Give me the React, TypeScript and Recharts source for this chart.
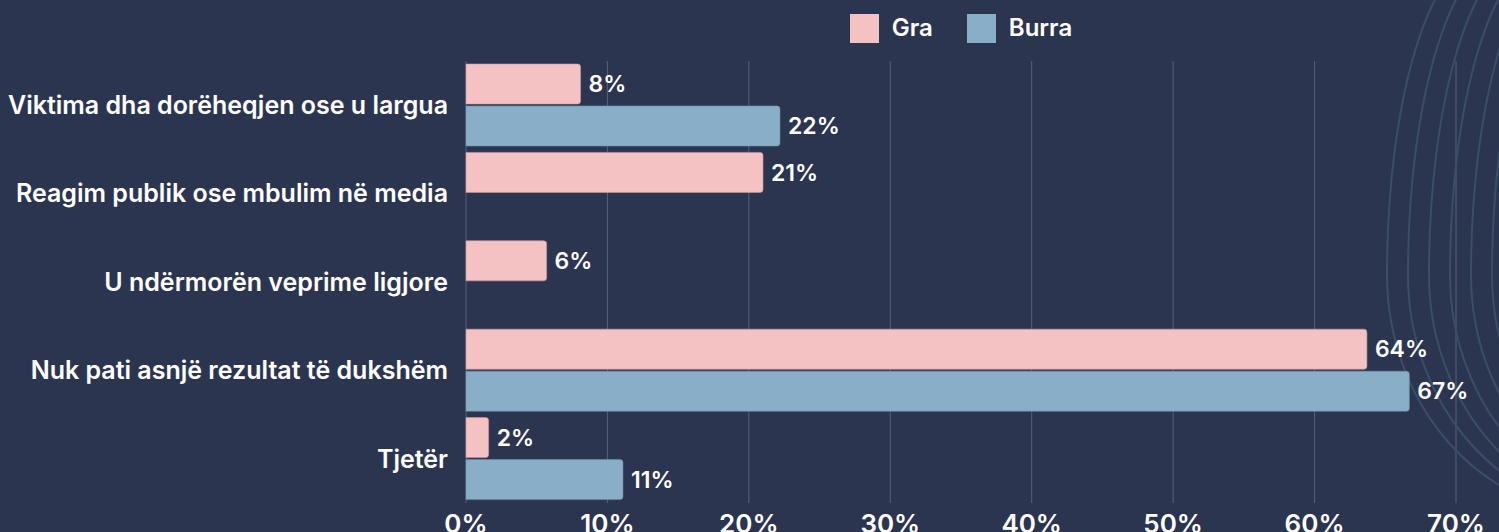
import React from "react";
import { BarChart, Bar, XAxis, YAxis, CartesianGrid, Legend, LabelList, Customized } from "recharts";

const categories = [
  "Viktima dha dorëheqjen ose u largua",
  "Reagim publik ose mbulim në media",
  "U ndërmorën veprime ligjore",
  "Nuk pati asnjë rezultat të dukshëm",
  "Tjetër",
];
const graValues = [8.1, 21.0, 5.7, 63.7, 1.6];
const burraValues: (number | null)[] = [22.2, null, null, 66.7, 11.1];
const xTicks = [0, 10, 20, 30, 40, 50, 60, 70];
const seriesNames = ["Gra", "Burra"];

const data = categories.map((c, i) => ({ name: c, gra: graValues[i], burra: burraValues[i] }));

const BG = "#2C3550";
const PINK = "#F4C2C2";
const BLUE = "#89AFC8";
const FONT = "Inter, 'Open Sans', sans-serif";

const Arcs = () => {
  const ks = [0, 1, 2, 3, 4, 5];
  return (
    <g>
      {ks.map((k) => {
        const xl = 1387 + 21 * k;
        const yl = 275;
        const d = `M ${xl + 98} ${yl - 320} A 98 320 0 0 0 ${xl} ${yl} A 217 240 0 0 0 ${xl + 217} ${yl + 240}`;
        return <path key={k} d={d} fill="none" stroke="#3B4E67" strokeWidth={2} />;
      })}
    </g>
  );
};

const LegendContent = () => (
  <div style={{ display: "flex", justifyContent: "center", alignItems: "center", gap: 34, fontFamily: FONT, height: 30 }}>
    {seriesNames.map((n, i) => (
      <div key={n} style={{ display: "flex", alignItems: "center" }}>
        <div style={{ width: 29, height: 29, background: i === 0 ? PINK : BLUE, marginRight: 13 }} />
        <span style={{ color: "#fff", fontWeight: 600, fontSize: 24, lineHeight: "30px" }}>{n}</span>
      </div>
    ))}
  </div>
);

const fmt = (v: any) => (v == null ? "" : `${Math.round(v)}%`);

export default function App() {
  return (
    <div style={{ position: "fixed", left: 0, top: 0, width: 1499, height: 532, background: BG, overflow: "hidden" }}>
      <BarChart
        width={1499}
        height={532}
        data={data}
        layout="vertical"
        margin={{ top: 31, right: 43, bottom: 0, left: 0 }}
        barCategoryGap={3}
        barGap={2}
      >
        <Customized component={Arcs} />
        <CartesianGrid horizontal={false} stroke="#566079" strokeWidth={1} />
        <Legend
          verticalAlign="top"
          content={<LegendContent />}
          wrapperStyle={{ top: 13, left: 466, width: 990, height: 30 }}
        />
        <XAxis
          type="number"
          domain={[0, 70]}
          ticks={xTicks}
          tickFormatter={(v) => `${v}%`}
          axisLine={false}
          tickLine={false}
          height={29}
          tick={{ fill: "#fff", fontSize: 26, fontWeight: 600, fontFamily: FONT }}
          tickMargin={6}
        />
        <YAxis
          type="category"
          dataKey="name"
          width={466}
          axisLine={false}
          tickLine={false}
          tick={{ fill: "#fff", fontSize: 25, fontWeight: 600, fontFamily: FONT }}
          tickMargin={12}
        />
        <Bar dataKey="gra" name="Gra" fill={PINK} stroke="#C99A9E" strokeWidth={0.6} radius={[0, 3, 3, 0]} isAnimationActive={false}>
          <LabelList dataKey="gra" position="right" offset={8} formatter={fmt} fill="#fff" style={{ fontSize: 23, fontWeight: 600, fontFamily: FONT }} />
        </Bar>
        <Bar dataKey="burra" name="Burra" fill={BLUE} stroke="#6E90A8" strokeWidth={0.6} radius={[0, 3, 3, 0]} isAnimationActive={false}>
          <LabelList dataKey="burra" position="right" offset={8} formatter={fmt} fill="#fff" style={{ fontSize: 23, fontWeight: 600, fontFamily: FONT }} />
        </Bar>
      </BarChart>
    </div>
  );
}
